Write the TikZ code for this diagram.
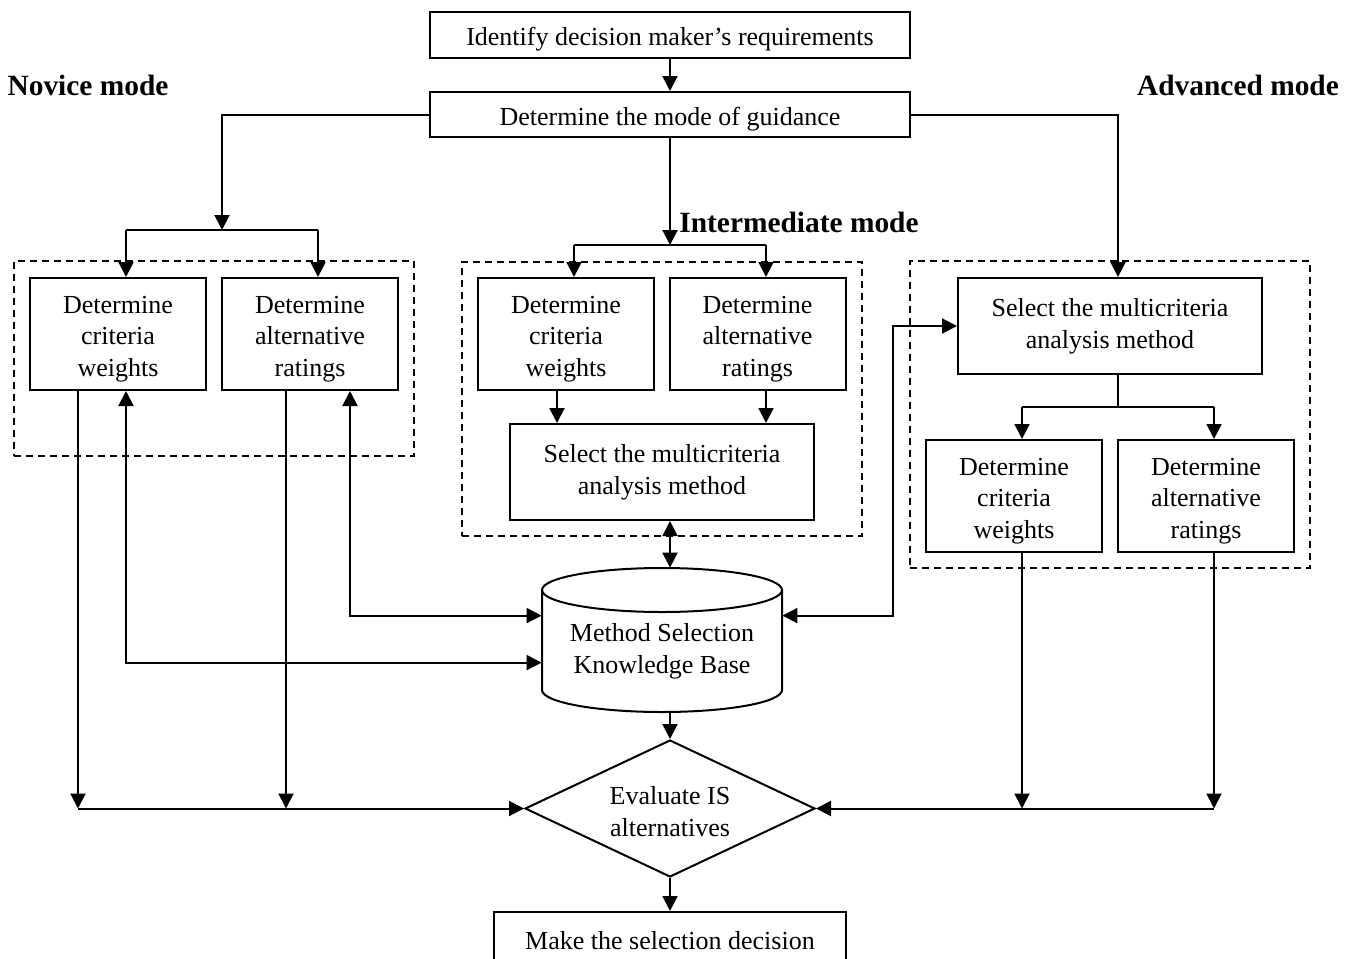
\documentclass[tikz,border=0pt]{standalone}
\usepackage{fontspec}
\setmainfont{Liberation Serif}
\usetikzlibrary{arrows.meta,shapes.geometric}
\newcommand{\tstr}{\rule{0pt}{13.6pt}}
\newcommand{\dstr}{\rule{0pt}{12pt}}
\begin{document}
\begin{tikzpicture}[x=0.5pt,y=-0.5pt,
 ln/.style={line width=1pt},
 arr/.style={ln, -{Triangle[length=7.5pt,width=7.5pt]}},
 darr/.style={ln, {Triangle[length=7.5pt,width=7.5pt]}-{Triangle[length=7.5pt,width=7.5pt]}},
 box/.style={draw, ln, align=center, inner sep=0pt, font=\fontsize{13}{15.8}\selectfont},
 smallbox/.style={box, minimum width=88pt, minimum height=56pt},
 selbox/.style={box, minimum width=152pt, minimum height=48pt},
 grp/.style={draw, line width=0.8pt, dash pattern=on 3.5pt off 2.5pt, inner sep=0pt},
 lbl/.style={font=\fontsize{14.7}{17}\selectfont\bfseries, inner sep=0pt},
 txt/.style={align=center, inner sep=0pt, font=\fontsize{13}{15.8}\selectfont},
]
\useasboundingbox (0,0) rectangle (1354,958);

% top
\node[box, minimum width=240pt, minimum height=23pt] (ident) at (670,35) {\tstr Identify decision maker’s requirements};
\node[box, minimum width=240pt, minimum height=22.5pt] (mode) at (670,114.5) {\tstr Determine the mode of guidance};

% labels
\node[lbl] (novl) at (88,85) {Novice mode};
\node[lbl] (advl) at (1238,85) {Advanced mode};
\node[lbl, anchor=west] (intl) at (679,222) {Intermediate mode};

% dashed groups
\node[grp, minimum width=200pt, minimum height=97.5pt] (ngrp) at (214,358.5) {};
\node[grp, minimum width=200pt, minimum height=137pt] (igrp) at (662,399) {};
\node[grp, minimum width=200pt, minimum height=153.5pt] (agrp) at (1110,414.5) {};

% novice
\node[smallbox] (nw) at (118,334) {\tstr Determine\\criteria\\weights};
\node[smallbox] (nr) at (310,334) {\tstr Determine\\alternative\\ratings};

% intermediate
\node[smallbox] (iw) at (566,334) {\tstr Determine\\criteria\\weights};
\node[smallbox] (ir) at (757.5,334) {\tstr Determine\\alternative\\ratings};
\node[selbox] (isel) at (662,472) {Select the multicriteria\\analysis method};

% advanced
\node[selbox] (asel) at (1110,326) {Select the multicriteria\\analysis method};
\node[smallbox] (aw) at (1014,496) {\tstr Determine\\criteria\\weights};
\node[smallbox] (ar) at (1206,496) {\tstr Determine\\alternative\\ratings};

% knowledge base cylinder
\node[minimum width=120pt, minimum height=72pt, inner sep=0pt] (kb) at (662,640) {};
\draw[ln] (662,590) ellipse [x radius=60pt, y radius=11pt];
\draw[ln] (542,590) -- (542,690) arc[start angle=180, end angle=360, x radius=60pt, y radius=11pt] -- (782,590);
\node[txt] (kbt) at (662,651) {Method Selection\\Knowledge Base};

% evaluation and decision
\node[draw, ln, diamond, shape aspect=2.12, minimum width=145pt, minimum height=68.5pt, inner sep=0pt, align=center,
      font=\fontsize{13}{15.8}\selectfont] (eval) at (670,808.5) {\dstr Evaluate IS\\alternatives};
\node[box, minimum width=176pt, minimum height=24pt] (final) at (670,936) {\tstr Make the selection decision};

% main flow
\draw[arr] (ident) -- (mode);

% novice branch
\coordinate (nb) at (222,230);
\coordinate (nbl) at (126,230);
\coordinate (nbr) at (318,230);
\draw[arr] (mode.west) -| (nb);
\draw[ln] (nbl) -- (nbr);
\draw[arr] (nbl) -- (nbl |- nw.north);
\draw[arr] (nbr) -- (nbr |- nr.north);

% intermediate branch
\coordinate (ib) at (670,245);
\coordinate (ibl) at (574,245);
\coordinate (ibr) at (766,245);
\draw[arr] (mode.south) -- (ib);
\draw[ln] (ibl) -- (ibr);
\draw[arr] (ibl) -- (ibl |- iw.north);
\draw[arr] (ibr) -- (ibr |- ir.north);
\path ([xshift=-4.5pt]iw.south) coordinate (iw1);
\path ([xshift=4.25pt]ir.south) coordinate (ir1);
\draw[arr] (iw1) -- (iw1 |- isel.north);
\draw[arr] (ir1) -- (ir1 |- isel.north);
\path ([xshift=4pt]isel.south) coordinate (is1);
\draw[darr] (is1) -- (is1 |- kb.north);

% advanced branch
\path ([xshift=4pt]asel.north) coordinate (as1);
\draw[arr] (mode.east) -| (as1);
\path ([xshift=4pt]asel.south) coordinate (as2);
\coordinate (ab) at (1118,407);
\coordinate (abl) at (1022,407);
\coordinate (abr) at (1214,407);
\draw[ln] (as2) -- (ab);
\draw[ln] (abl) -- (abr);
\draw[arr] (abl) -- (abl |- aw.north);
\draw[arr] (abr) -- (abr |- ar.north);

% knowledge base links
\path ([yshift=-24pt]kb.north west) coordinate (kbl1);
\path ([yshift=-47.5pt]kb.north west) coordinate (kbl2);
\path ([yshift=-24pt]kb.north east) coordinate (kbr1);
\draw[darr] ([xshift=20pt]nr.south) |- (kbl1);
\draw[darr] ([xshift=4pt]nw.south) |- (kbl2);
\draw[darr] (kbr1) -- ++(55.5pt,0) |- (asel.west);
\draw[arr] (kb.south -| eval.north) -- (eval.north);
\draw[arr] (eval.south) -- (final.north);

% bottom collectors
\coordinate (bl1) at (78,808.5);
\coordinate (bl2) at (286,808.5);
\coordinate (br1) at (1022,808.5);
\coordinate (br2) at (1214,808.5);
\draw[arr] ([xshift=-20pt]nw.south) -- (bl1);
\draw[arr] ([xshift=-12pt]nr.south) -- (bl2);
\draw[arr] (bl1) -- (eval.west);
\draw[arr] ([xshift=4pt]aw.south) -- (br1);
\draw[arr] ([xshift=4pt]ar.south) -- (br2);
\draw[arr] (br2) -- (eval.east);
\end{tikzpicture}
\end{document}
